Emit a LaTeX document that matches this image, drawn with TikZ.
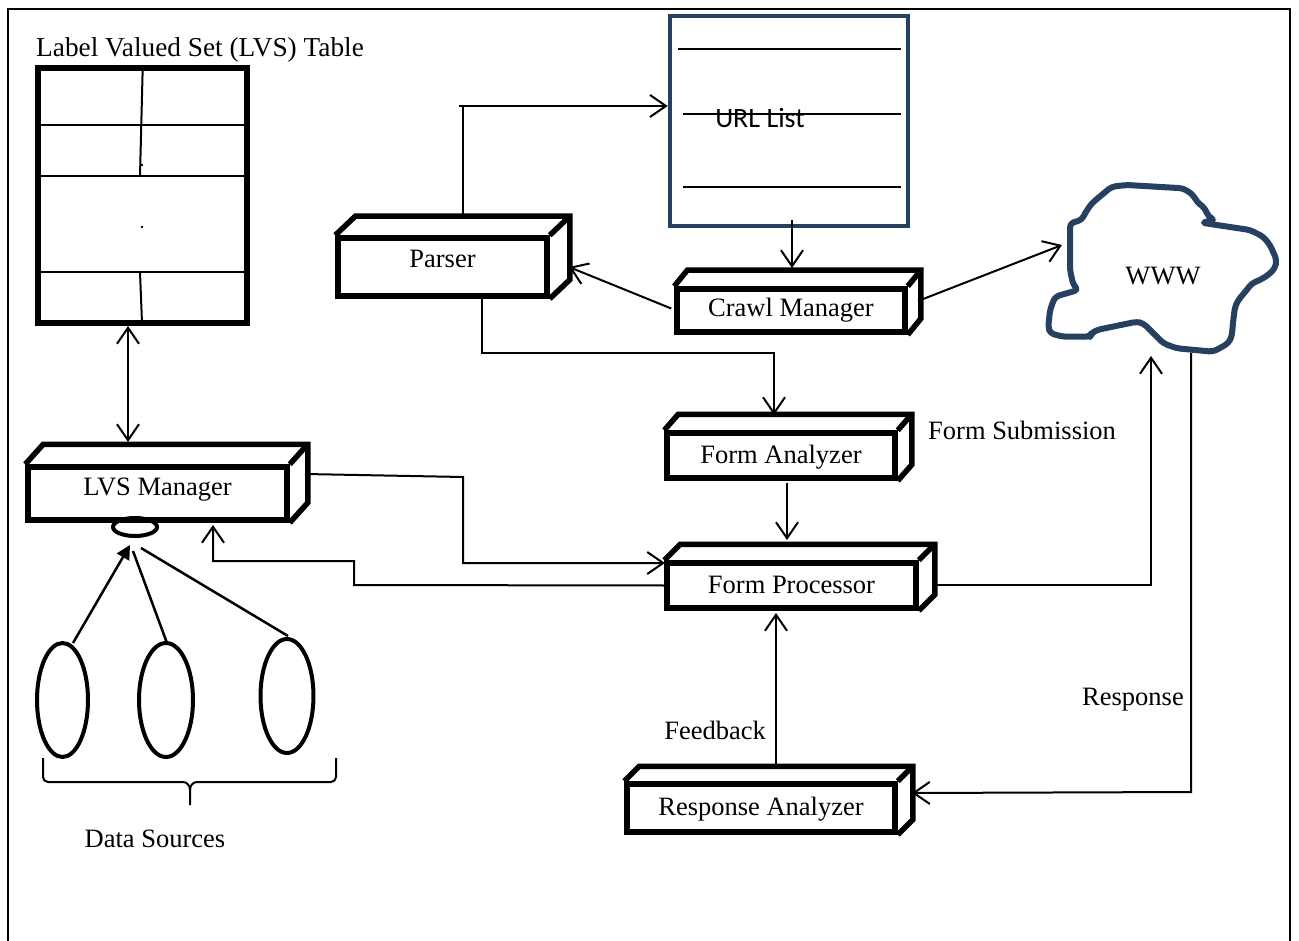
\documentclass[tikz,border=0pt]{standalone}
\usepackage{fontspec}
\setmainfont{Liberation Serif}
\newfontfamily\urlfont{Carlito}
\usetikzlibrary{arrows.meta,calc,shapes.geometric}
\definecolor{navy}{HTML}{264061}
\newcommand\dfont{\fontsize{26.5}{30}\selectfont}

\tikzset{
  conn/.style={line width=2pt},
  bb/.tip={Straight Barb[length=16pt,width=22pt,line width=2pt]},
  frontbox/.style={draw, line width=5.5pt, inner sep=0pt, text depth=0pt, font=\dfont},
  face/.style={line width=5.5pt},
  lbl/.style={inner sep=0pt, font=\dfont},
  thinrule/.style={line width=2pt},
  source/.style={draw, line width=4pt, ellipse, inner sep=0pt},
}

% 3D box: name, x, y, width, height, depth x, depth y, baseline shift, text
\newcommand\tdbox[9]{%
  \node[frontbox, minimum width=#4pt, minimum height=#5pt, text height=#8pt] (#1) at (#2,#3) {#9};
  \draw[face] (#1.north west) -- ++(#6,-#7) -- ($(#1.north east)+(#6,-#7)$)
     -- ($(#1.south east)+(#6,-#7)$) -- (#1.south east);
  \draw[face] (#1.north east) -- ++(#6,-#7);
}

\begin{document}
\begin{tikzpicture}[x=1pt,y=-1pt]
\useasboundingbox (0,0) rectangle (1299,941);
\fill[white] (0,0) rectangle (1299,941);

% outer frame
\draw[line width=2pt] (8,942) -- (8,9) -- (1290,9) -- (1290,942);

% ---- LVS table ----
\node[inner sep=0pt, font=\fontsize{27.3}{30}\selectfont, anchor=base west] (lvstitle) at (36,57) {Label Valued Set (LVS) Table};
\node[draw, line width=5.5pt, inner sep=0pt, minimum width=209pt, minimum height=255pt] (lvs) at (142.5,195.5) {};
\draw[thinrule] (lvs.west |- 0,125) -- (lvs.east |- 0,125);
\draw[thinrule] (lvs.west |- 0,176) -- (lvs.east |- 0,176);
\draw[thinrule] (lvs.west |- 0,272) -- (lvs.east |- 0,272);
\draw[thinrule] (142.7,68) -- (140,176);
\draw[thinrule] (140,272) -- (142,323);
\fill (142,103) circle (1.3);
\fill (142,165) circle (1.3);
\fill (142,227) circle (1.3);

% ---- URL list ----
\node[draw=navy, line width=4.5pt, inner sep=0pt, minimum width=238pt, minimum height=210pt] (url) at (789,121) {};
\draw[thinrule] (678,49) -- (901,49);
\draw[thinrule] (683,114) -- (901,114);
\draw[thinrule] (683,187) -- (901,187);
\node[inner sep=0pt, font=\urlfont\fontsize{28}{30}\selectfont, anchor=base] (urltxt) at (760,128) {URL List};

% ---- WWW cloud ----
\draw[navy, line width=6pt, rounded corners=4pt, line join=round]
  (1070,223.3) -- (1081.7,220) -- (1085,213.3) -- (1091.7,203.3) -- (1101.7,195)
  -- (1111.7,186.7) -- (1126.7,185) -- (1183.3,188.3) -- (1193.3,195) -- (1196.7,201.7)
  -- (1205,208.3) -- (1208.3,216.7) -- (1215,220) -- (1201.7,222.7) -- (1216.7,225)
  -- (1250,230) -- (1263.3,236.7) -- (1270,245) -- (1276.7,260) -- (1275,268.3)
  -- (1268.3,275) -- (1260,280) -- (1251.7,283.3) -- (1246.7,290) -- (1238.3,300)
  -- (1235,306.7) -- (1233.3,320) -- (1231.7,336.7) -- (1228.3,343.3) -- (1213.3,351.7)
  -- (1176.7,348.3) -- (1163.3,343.3) -- (1158.3,338.3) -- (1143.3,323.3) -- (1136.7,321.7)
  -- (1096.7,330) -- (1091.7,333.3) -- (1090,336.7) -- (1063.3,336.7) -- (1050,333.3)
  -- (1048.3,326.7) -- (1050,310) -- (1055,296.7) -- (1066.7,293.3) -- (1078.3,290)
  -- (1073.3,285) -- (1070,270) -- cycle;
\node[lbl, anchor=base] (www) at (1163,285) {WWW};

% ---- processing boxes ----
\tdbox{parser}{442.5}{267}{209}{58}{20}{19}{2}{Parser}
\tdbox{crawl}{791}{310.5}{228}{43}{13}{16}{13}{Crawl Manager}
\tdbox{fanalyzer}{781}{455.5}{228}{45}{14}{16}{15}{Form Analyzer}
\tdbox{fproc}{791.5}{585.5}{249}{45}{16}{16}{15}{Form Processor}
\tdbox{ranalyzer}{761}{808}{268}{48}{15}{15}{14}{Response Analyzer}
\tdbox{lvsm}{157.5}{493.5}{259}{53}{18}{20}{3}{LVS Manager}

% ---- labels ----
\node[lbl, anchor=base west] (fsub) at (928,439) {Form Submission};
\node[lbl, anchor=base east] (resp) at (1184,705) {Response};
\node[lbl, anchor=base east] (fback) at (766,739) {Feedback};
\node[lbl, anchor=base] (dsrc) at (155,847) {Data Sources};

% ---- data sources ----
\node[source, minimum width=51pt, minimum height=114pt] (ds1) at (62.5,700) {};
\node[source, minimum width=54pt, minimum height=114pt] (ds2) at (166,700) {};
\node[source, minimum width=53pt, minimum height=114pt] (ds3) at (287,696) {};
\node[draw, ellipse, line width=4pt, inner sep=0pt, minimum width=44pt, minimum height=18pt] (hub) at (135,527) {};
\coordinate (hubin) at (130,545);
\draw[line width=2.5pt, -{Triangle[length=14pt,width=14pt]}] (73,643) -- (hubin);
\draw[line width=2.5pt] (167,643) -- (133,551);
\draw[line width=2.5pt] (288,636) -- (141,548);
% brace under the sources
\draw[line width=2pt, line join=round]
  (43,758) -- (43,777) to[out=-90,in=180] (48,782) -- (183,782)
  to[out=0,in=90] (190,790) -- (190,805);
\draw[line width=2pt, line join=round]
  (336,758) -- (336,777) to[out=-90,in=0] (331,782) -- (197,782)
  to[out=180,in=90] (190,790);

% ---- connectors ----
\coordinate (p1) at (463,219);
\coordinate (p2) at (459,106);
\draw[conn] (p1) -- (p1 |- p2);
\draw[conn,-bb] (p2) -- (p2 -| url.west);

\draw[conn,-bb] (792,220) -- (792,268);
\draw[conn,-bb] (crawl.west) ++(-3,-2) -- (569,267);
\draw[conn,-bb] (918,301) -- (1062,245);

\coordinate (q1) at (482,298);
\draw[conn,-bb] (q1) -- (482,353) -- (774,353) -- (774,415);
\draw[conn,-bb] (787,483) -- (787,540);

\draw[conn,-bb] (305,474) -- (463,477) -- (463,563) -- (665,563);
\draw[conn,-bb] (fproc.west) -- (354,585) -- (354,561) -- (213,561) -- (213,525);

\draw[conn,{bb}-{bb}] (128,326) -- (128,442);

\draw[conn,-bb] (932,585) -- (1151,585) -- (1151,356);
\draw[conn,-bb] (1191,353) -- (1191,792) -- (912,793);
\draw[conn,-bb] (776,769) -- (776,613);

\end{tikzpicture}
\end{document}
